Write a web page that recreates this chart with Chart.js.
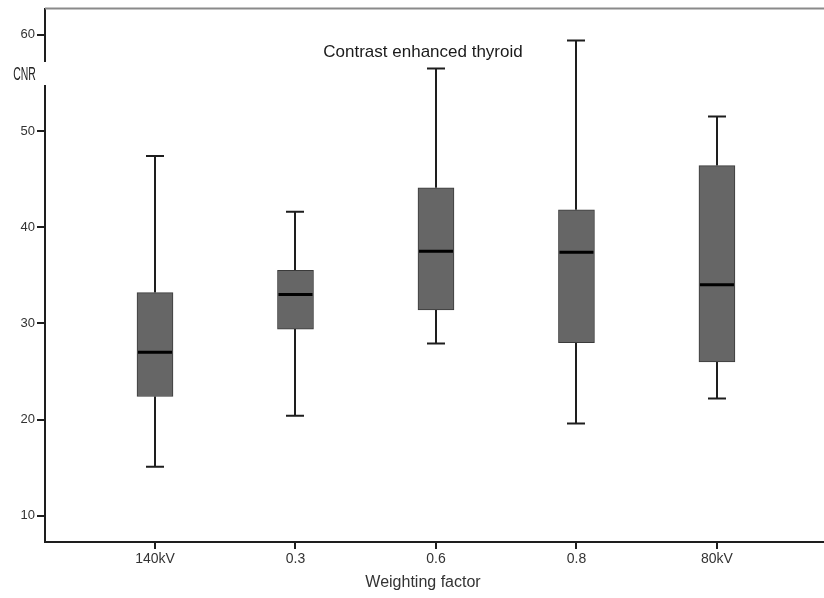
<!DOCTYPE html>
<html>
<head>
<meta charset="utf-8">
<script src="https://cdn.jsdelivr.net/npm/chart.js@4.4.1/dist/chart.umd.min.js"></script>
<style>
  html, body { margin: 0; padding: 0; background: #ffffff; }
  #wrap { width: 824px; height: 598px; position: relative; }
</style>
</head>
<body>
<div id="wrap"><canvas id="c" width="824" height="598"></canvas></div>
<script>
// ---- data ----
const categories = ['140kV', '0.3', '0.6', '0.8', '80kV'];
const whiskerLow  = [15.1, 20.4, 27.9, 19.6, 22.2];
const quartile1   = [22.4, 29.4, 31.4, 28.0, 26.0];
const medians     = [27.0, 33.0, 37.5, 37.4, 34.0];
const quartile3   = [33.2, 35.5, 44.1, 41.8, 46.4];
const whiskerHigh = [47.4, 41.6, 56.5, 59.4, 51.5];
const yTicks = [10, 20, 30, 40, 50, 60];
const chartTitle = 'Contrast enhanced thyroid';
const yTitle = 'CNR';
const xTitle = 'Weighting factor';

const FONT = '"Liberation Sans", Arial, Helvetica, sans-serif';

const boxData = categories.map((c, i) => ({ x: i, y: [quartile1[i], quartile3[i]] }));

const boxPlugin = {
  id: 'boxExtras',
  beforeDatasetsDraw(chart) {
    const ctx = chart.ctx, xs = chart.scales.x, ys = chart.scales.y;
    const ca = chart.chartArea;
    // top frame line
    ctx.save();
    ctx.strokeStyle = '#8a8a8a';
    ctx.lineWidth = 2;
    ctx.beginPath();
    ctx.moveTo(ca.left, ca.top);
    ctx.lineTo(ca.right, ca.top);
    ctx.stroke();
    // whiskers
    ctx.strokeStyle = '#1e1e1e';
    ctx.lineWidth = 2;
    const cap = 9;
    categories.forEach((c, i) => {
      const x = Math.round(xs.getPixelForValue(i));
      const yLo = ys.getPixelForValue(whiskerLow[i]);
      const yQ1 = ys.getPixelForValue(quartile1[i]);
      const yQ3 = ys.getPixelForValue(quartile3[i]);
      const yHi = ys.getPixelForValue(whiskerHigh[i]);
      ctx.beginPath();
      ctx.moveTo(x, yQ3); ctx.lineTo(x, yHi);
      ctx.moveTo(x, yQ1); ctx.lineTo(x, yLo);
      ctx.moveTo(x - cap, yHi); ctx.lineTo(x + cap, yHi);
      ctx.moveTo(x - cap, yLo); ctx.lineTo(x + cap, yLo);
      ctx.stroke();
    });
    ctx.restore();
  },
  afterDatasetsDraw(chart) {
    const ctx = chart.ctx, xs = chart.scales.x, ys = chart.scales.y;
    const half = 18;
    ctx.save();
    ctx.strokeStyle = '#000000';
    ctx.lineWidth = 3;
    categories.forEach((c, i) => {
      const x = xs.getPixelForValue(i);
      const y = ys.getPixelForValue(medians[i]);
      ctx.beginPath();
      ctx.moveTo(x - half + 1, y); ctx.lineTo(x + half - 1, y);
      ctx.stroke();
    });
    // chart title inside plot
    ctx.fillStyle = '#1a1a1a';
    ctx.font = '17px ' + FONT;
    ctx.textAlign = 'center';
    ctx.textBaseline = 'alphabetic';
    ctx.fillText(chartTitle, 423, 57);
    // x axis title
    ctx.fillStyle = '#333333';
    ctx.font = '16px ' + FONT;
    ctx.fillText(xTitle, 423, 587);
    // y axis title, sitting on the axis line with white background
    ctx.fillStyle = '#ffffff';
    ctx.fillRect(8, 62, 40, 23);
    ctx.fillStyle = '#222222';
    ctx.font = '18px ' + FONT;
    ctx.translate(24.5, 80);
    ctx.scale(0.58, 1);
    ctx.fillText(yTitle, 0, 0);
    ctx.restore();
  }
};

new Chart(document.getElementById('c'), {
  type: 'bar',
  data: {
    datasets: [{
      data: boxData,
      backgroundColor: '#666666',
      borderColor: '#3a3a3a',
      borderWidth: 1,
      borderSkipped: false,
      barThickness: 36
    }]
  },
  options: {
    responsive: false,
    animation: false,
    events: [],
    layout: { padding: { top: 8, right: 0, left: 0, bottom: 0 } },
    plugins: { legend: { display: false }, tooltip: { enabled: false }, title: { display: false } },
    scales: {
      x: {
        type: 'linear',
        offset: false,
        min: -0.783,
        max: 4.762,
        afterBuildTicks(scale) { scale.ticks = categories.map((c, i) => ({ value: i })); },
        afterFit(scale) { scale.height = 56; },
        ticks: {
          callback: (v) => categories[Math.round(v)],
          font: { family: FONT, size: 14 },
          color: '#333333',
          padding: 2,
          maxRotation: 0,
          autoSkip: false
        },
        grid: { display: true, offset: false, drawOnChartArea: false, drawTicks: true, tickLength: 7, tickColor: '#1e1e1e', tickWidth: 2, color: '#1e1e1e', lineWidth: 2 },
        border: { display: true, color: '#1e1e1e', width: 2 }
      },
      y: {
        type: 'linear',
        min: 7.27,
        max: 62.73,
        afterBuildTicks(scale) { scale.ticks = yTicks.map(v => ({ value: v })); },
        afterFit(scale) { scale.width = 45; },
        ticks: {
          font: { family: FONT, size: 13, lineHeight: 1 },
          color: '#333333',
          padding: 2
        },
        grid: { display: true, drawOnChartArea: false, drawTicks: true, tickLength: 8, tickColor: '#1e1e1e', tickWidth: 2, color: '#1e1e1e', lineWidth: 2 },
        border: { display: true, color: '#1e1e1e', width: 2 }
      }
    }
  },
  plugins: [boxPlugin]
});
</script>
</body>
</html>
